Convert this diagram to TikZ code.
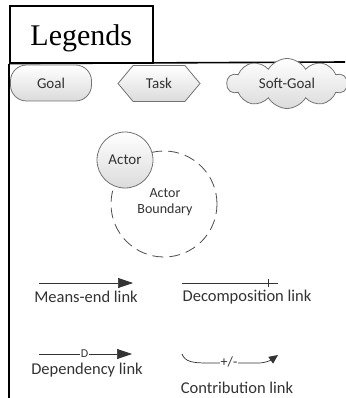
\documentclass[tikz,border=0pt]{standalone}
\usepackage{fontspec}
\setmainfont{Liberation Serif}
\newfontfamily\carlito{Carlito}
\usetikzlibrary{shapes.symbols,arrows.meta}
\begin{document}
\begin{tikzpicture}[x=1pt,y=-1pt,
  frame/.style={line width=1.6pt},
  elem/.style={draw=black!55, line width=0.8pt, top color=white, bottom color=black!14,
    font=\carlito\fontsize{15}{17}\selectfont, text=black!80, inner sep=0pt},
  goalbox/.style={elem, rounded corners=16pt, minimum width=81pt, minimum height=36pt},
  taskbox/.style={elem, signal, signal to=west and east, signal pointer angle=100,
    minimum width=82pt, minimum height=36pt},
  softbox/.style={elem, cloud, cloud puffs=10, cloud puff arc=120, cloud ignores aspect,
    minimum width=120pt, minimum height=50pt},
  actorbox/.style={elem, circle, minimum size=56pt},
  boundary/.style={draw=black!70, line width=0.8pt, dash pattern=on 11pt off 6pt},
  linkline/.style={draw=black!80, line width=0.7pt},
  bigtip/.style={-{Triangle[length=15pt,width=10pt]}},
  smalltip/.style={-{Triangle[length=9pt,width=8pt]}},
  linklabel/.style={font=\carlito\fontsize{16.5}{19}\selectfont, text=black!80, inner sep=0pt},
  smalllabel/.style={font=\carlito\fontsize{12}{13}\selectfont, text=black!80, fill=white, inner sep=1pt}
]
\useasboundingbox (0,0) rectangle (345,398);
\fill[white] (0,0) rectangle (345,398);

% title box and frame
\node[frame, draw, minimum width=143pt, minimum height=57pt, anchor=north west, inner sep=0pt] (title) at (9,5) {};
\node[anchor=base, font=\fontsize{30}{32}\selectfont] (legend) at (title.center |- 0,46) {Legends};
\coordinate (frameR) at (345,62);
\coordinate (frameB) at (9,398);
\draw[frame] (title.south west) -- (frameR);
\draw[frame] (title.south west) -- (frameB);

% element shapes
\node[goalbox] (goal) at (51,83) {Goal};
\node[taskbox] (task) at (159,83.5) {Task};
\node[softbox] (soft) at (287,83.5) {Soft-Goal};

% actor and its boundary
\node[boundary, circle, minimum size=106pt] (bound) at (164,204) {};
\node[align=center, font=\carlito\fontsize{14}{15.5}\selectfont, text=black!80] (boundtext) at (165,202) {Actor\\Boundary};
\node[actorbox] (actor) at (125,160) {Actor};

% means-end link
\coordinate (m1) at (39,283);
\coordinate (m2) at (133,283);
\draw[linkline, bigtip] (m1) -- (m2);
\node[linklabel] (mlab) at (86,297) {Means-end link};

% decomposition link
\coordinate (d1) at (182,283);
\coordinate (d2) at (278,283);
\coordinate (dt) at (268,283);
\draw[linkline] (d1) -- (d2);
\draw[linkline] ([yshift=-4pt]dt) -- ([yshift=4pt]dt);
\node[linklabel] (dlab) at (247,297) {Decomposition link};

% dependency link
\coordinate (p1) at (39,354);
\coordinate (p2) at (132,354);
\draw[linkline, bigtip] (p1) -- (p2) node[smalllabel, pos=0.49] (dmark) {D};
\node[linklabel] (plab) at (87,370) {Dependency link};

% contribution link
\coordinate (c1) at (182,354);
\coordinate (c2) at (278,355);
\node[smalllabel, font=\carlito\fontsize{14}{15}\selectfont, inner sep=0.5pt] (pm) at (229,362) {+/-};
\draw[linkline] (c1) .. controls (185,362) and (193,363) .. (208,363) -- (pm.west |- 0,363);
\draw[linkline, smalltip] (pm.east |- 0,363) -- (258,363) .. controls (266,363) and (271,360) .. (c2);
\node[linklabel] (clab) at (237,388) {Contribution link};
\end{tikzpicture}
\end{document}
